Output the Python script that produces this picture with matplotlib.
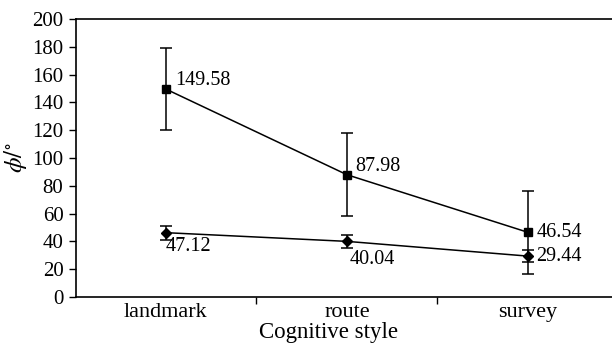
import numpy as np
import matplotlib.pyplot as plt

plt.rcParams['font.family'] = ['Liberation Serif', 'DejaVu Serif']
plt.rcParams['mathtext.fontset'] = 'stix'

styles = ['landmark', 'route', 'survey']
upper = [149.58, 87.98, 46.54]
upper_err = [29.5, 30.0, 30.0]
lower = [46.3, 40.04, 29.44]
lower_err = [5.0, 4.8, 4.5]
upper_labels = ['149.58', '87.98', '46.54']
lower_labels = ['47.12', '40.04', '29.44']

fig = plt.figure(figsize=(6.12, 3.45), dpi=100)
ax = fig.add_axes([0.124, 0.139, 0.876, 0.806])

x = np.arange(len(styles))
ax.errorbar(x, upper, yerr=upper_err, color='black', marker='s', markersize=6,
            linewidth=1.1, elinewidth=1.1, capsize=4, capthick=1.1)
ax.errorbar(x, lower, yerr=lower_err, color='black', marker='D', markersize=5,
            linewidth=1.1, elinewidth=1.1, capsize=4, capthick=1.1)

# value labels
fs = 14.5
ax.annotate(upper_labels[0], (x[0], upper[0]), xytext=(7, 6), textcoords='offset points',
            fontsize=fs, va='center', ha='left')
ax.annotate(upper_labels[1], (x[1], upper[1]), xytext=(6, 6), textcoords='offset points',
            fontsize=fs, va='center', ha='left')
ax.annotate(upper_labels[2], (x[2], upper[2]), xytext=(6, 0), textcoords='offset points',
            fontsize=fs, va='center', ha='left')
ax.annotate(lower_labels[0], (x[0], lower[0]), xytext=(0, -3), textcoords='offset points',
            fontsize=fs, va='top', ha='left')
ax.annotate(lower_labels[1], (x[1], lower[1]), xytext=(2, -6), textcoords='offset points',
            fontsize=fs, va='top', ha='left')
ax.annotate(lower_labels[2], (x[2], lower[2]), xytext=(6, 0), textcoords='offset points',
            fontsize=fs, va='center', ha='left')

ax.set_xlim(-0.497, 2.464)
ax.set_ylim(0, 200)
ax.set_yticks(np.arange(0, 201, 20))
ax.set_xticks(x)
ax.set_xticklabels(styles, fontsize=16)
ax.set_xticks([0.5, 1.5], minor=True)
ax.tick_params(axis='x', which='major', length=0, pad=4)
ax.tick_params(axis='x', which='minor', length=5, width=1)
ax.tick_params(axis='y', labelsize=15, length=5, width=1, pad=4)

ax.spines['right'].set_visible(False)
for s in ['left', 'bottom', 'top']:
    ax.spines[s].set_linewidth(1.2)

ax.set_xlabel('Cognitive style', fontsize=16.5)
ax.xaxis.set_label_coords(0.472, -0.09)
ax.set_ylabel(r'$\phi/^{\circ}$', fontsize=18, labelpad=2)

fig.savefig('out.png', dpi=100)
